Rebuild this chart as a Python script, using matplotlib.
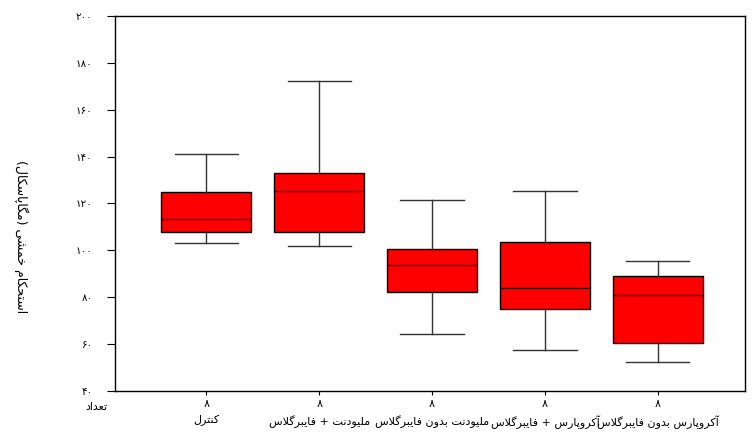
import matplotlib
matplotlib.use("Agg")
import matplotlib.pyplot as plt

# Datos
grupos = ["کنترل", "ملیودنت + فایبرگلاس", "ملیودنت بدون فایبرگلاس",
          "آکروپارس + فایبرگلاس", "آکروپارس بدون فایبرگلاس"]
n_muestras = [8, 8, 8, 8, 8]
minimos = [103.0, 101.7, 64.3, 57.4, 52.3]
q1 = [107.7, 107.7, 82.1, 74.9, 60.4]
medianas = [113.2, 125.5, 93.6, 83.8, 80.9]
q3 = [125.1, 133.2, 100.4, 103.4, 88.9]
maximos = [141.3, 172.3, 121.3, 125.5, 95.3]
yticks = [40, 60, 80, 100, 120, 140, 160, 180, 200]
etiqueta_y = "استحکام خمشی (مگاپاسکال)"
etiqueta_n = "تعداد"

# Formas de presentación árabes: (aislada, final, inicial, media)
def dual(x):
    return (x, x + 1, x + 2, x + 3)

def derecha(x):
    return (x, x + 1, None, None)

FORMAS = {
    "ا": derecha(0xFE8D), "آ": derecha(0xFE81), "د": derecha(0xFEA9),
    "ذ": derecha(0xFEAB), "ر": derecha(0xFEAD), "ز": derecha(0xFEAF),
    "ژ": derecha(0xFB8A), "و": derecha(0xFEED),
    "ب": dual(0xFE8F), "پ": dual(0xFB56), "ت": dual(0xFE95), "ث": dual(0xFE99),
    "ج": dual(0xFE9D), "چ": dual(0xFB7A), "ح": dual(0xFEA1), "خ": dual(0xFEA5),
    "س": dual(0xFEB1), "ش": dual(0xFEB5), "ع": dual(0xFEC9), "ف": dual(0xFED1),
    "ق": dual(0xFED5), "ک": dual(0xFB8E), "گ": dual(0xFB92), "ل": dual(0xFEDD),
    "م": dual(0xFEE1), "ن": dual(0xFEE5), "ه": dual(0xFEE9), "ی": dual(0xFBFC),
}
LIGADURAS = {"LA": (0xFEFB, 0xFEFC), "LAA": (0xFEF5, 0xFEF6)}

def rtl(texto):
    tokens = []
    i = 0
    while i < len(texto):
        if texto[i] == "ل" and i + 1 < len(texto) and texto[i + 1] in "اآ":
            tokens.append("LA" if texto[i + 1] == "ا" else "LAA")
            i += 2
        else:
            tokens.append(texto[i])
            i += 1
    salida = []
    for k, t in enumerate(tokens):
        prev = tokens[k - 1] if k > 0 else None
        sig = tokens[k + 1] if k + 1 < len(tokens) else None
        une_prev = prev in FORMAS and FORMAS[prev][2] is not None
        if t in LIGADURAS:
            salida.append(chr(LIGADURAS[t][1] if une_prev else LIGADURAS[t][0]))
            continue
        if t not in FORMAS:
            salida.append(t)
            continue
        f = FORMAS[t]
        une_sig = sig is not None and (sig in FORMAS or sig in LIGADURAS) and f[2] is not None
        if une_prev and une_sig:
            c = f[3]
        elif une_prev:
            c = f[1]
        elif une_sig:
            c = f[2]
        else:
            c = f[0]
        salida.append(chr(c))
    visual = "".join(reversed(salida))
    return visual.translate(str.maketrans("()", ")("))

def fa(num):
    return str(num).translate(str.maketrans("0123456789", "۰۱۲۳۴۵۶۷۸۹"))

plt.rcParams["font.family"] = ["DejaVu Sans"]

fig = plt.figure(figsize=(7.56, 4.32), dpi=100)
ax = fig.add_axes([0.152, 0.095, 0.833, 0.868])

stats = []
for i in range(len(grupos)):
    stats.append({"med": medianas[i], "q1": q1[i], "q3": q3[i],
                  "whislo": minimos[i], "whishi": maximos[i], "fliers": []})

posiciones = list(range(1, len(grupos) + 1))
ax.bxp(stats, positions=posiciones, widths=0.8, capwidths=0.56,
       patch_artist=True, showfliers=False,
       boxprops=dict(facecolor="#ff0000", edgecolor="black", linewidth=1.0),
       medianprops=dict(color="#3a0000", linewidth=1.0),
       whiskerprops=dict(color="#333333", linewidth=1.0),
       capprops=dict(color="#333333", linewidth=1.0))

ax.set_xlim(0.19, 5.77)
ax.set_ylim(40, 200)
ax.set_yticks(yticks)
ax.set_yticklabels([fa(v) for v in yticks], fontsize=7.5)
ax.set_xticks(posiciones)
ax.set_xticklabels([fa(n) + "\n" + rtl(g) for g, n in zip(grupos, n_muestras)],
                   fontsize=8, linespacing=1.6)
ax.tick_params(axis="y", direction="out", length=6, pad=10)
ax.tick_params(axis="x", direction="out", length=3, pad=3)
for s in ax.spines.values():
    s.set_color("black")
    s.set_linewidth(1.0)

fig.text(0.128, 1 - 407 / 432, rtl(etiqueta_n), fontsize=8, ha="center", va="center")
fig.text(0.028, 1 - 237 / 432, rtl(etiqueta_y), fontsize=9, rotation=-90,
         ha="center", va="center")

fig.savefig("out.png", dpi=100)
